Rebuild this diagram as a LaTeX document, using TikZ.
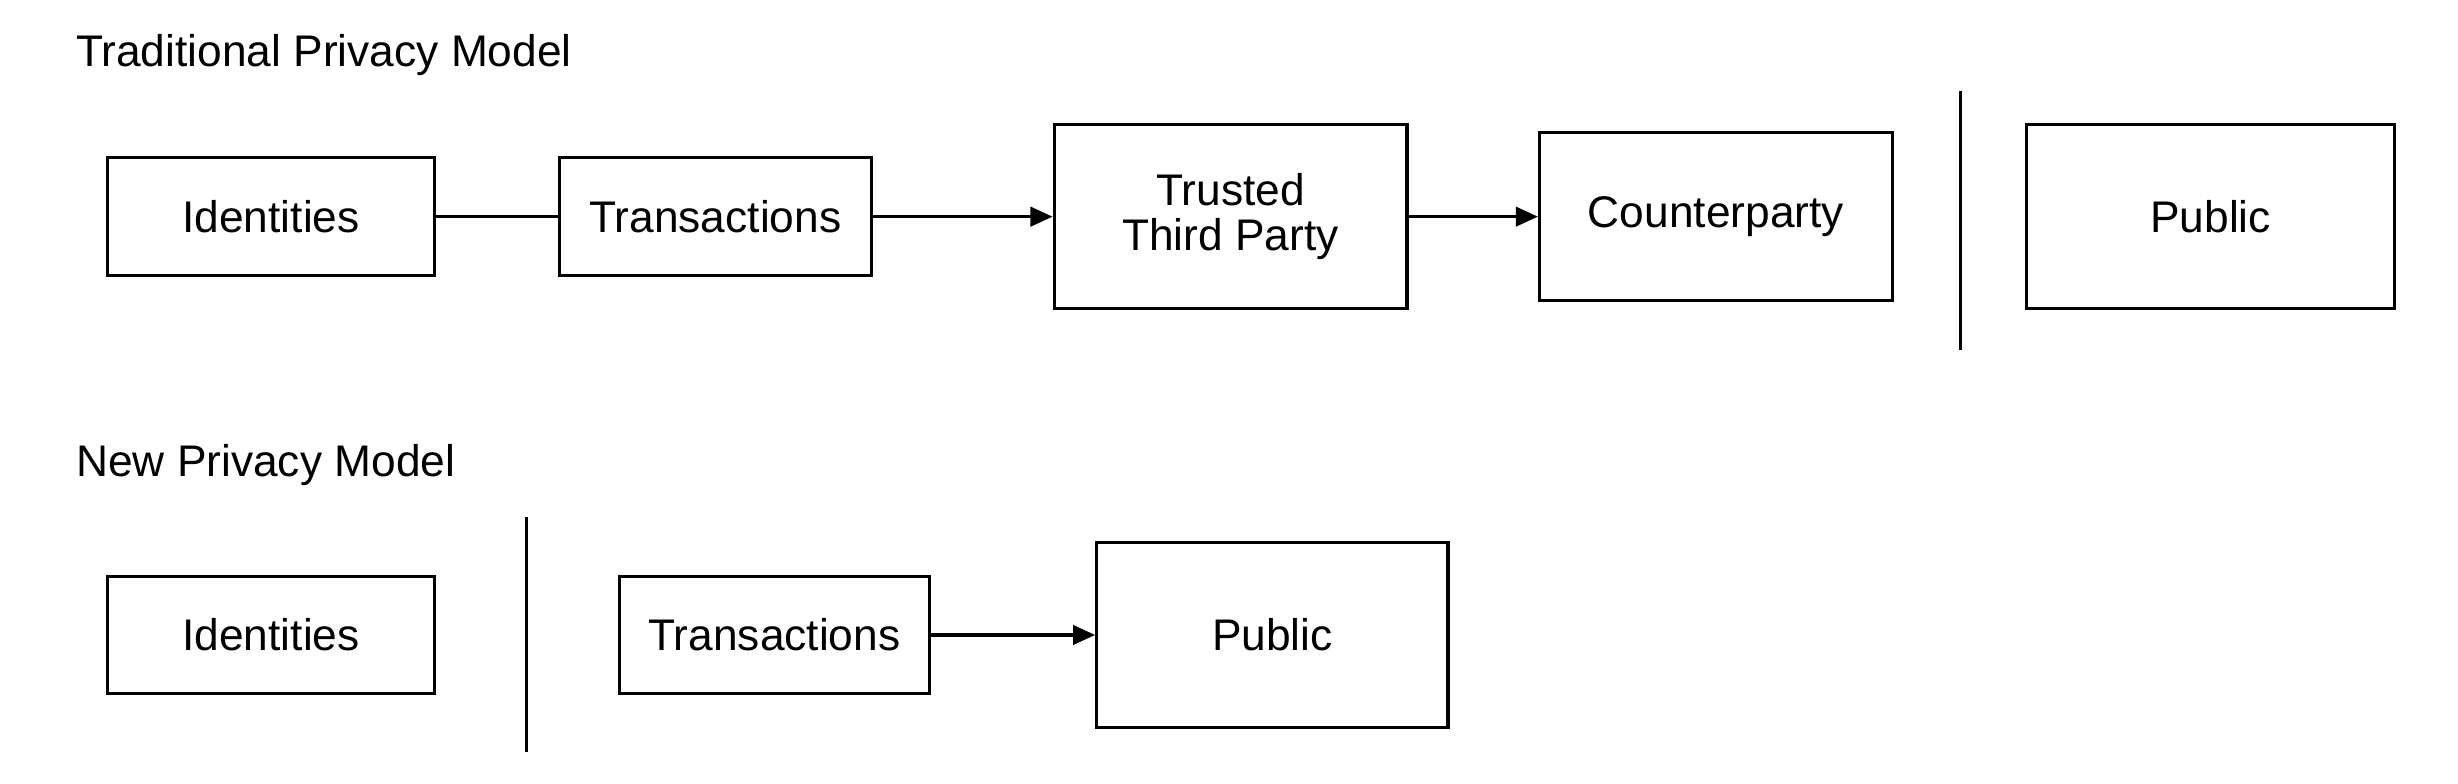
\documentclass[tikz,border=0pt]{standalone}
\usepackage{fontspec}
\setmainfont{Liberation Sans}
\usetikzlibrary{arrows.meta}
\tikzset{
  box/.style={draw,line width=1.1pt,align=center,font=\fontsize{16}{16.5}\selectfont,inner sep=0pt},
  link/.style={line width=1.1pt},
  arr/.style={line width=1.1pt,-{Triangle[length=8pt,width=7pt]}},
  title/.style={anchor=west,font=\fontsize{16}{18}\selectfont,inner sep=0pt}
}
\begin{document}
\begin{tikzpicture}[x=0.02cm,y=-0.02cm]
\useasboundingbox (0,0) rectangle (1560,497);

%traditional model
\node[title] (t1) at (48,35) {Traditional Privacy Model};
\node[box,minimum width=4.16cm,minimum height=1.5cm] (id1) at (172,137.5) {Identities};
\node[box,minimum width=3.96cm,minimum height=1.5cm] (tx1) at (454,137.5) {Transactions};
\node[box,minimum width=4.48cm,minimum height=2.34cm] (ttp) at (781,137.5) {Trusted\\Third Party};
\node[box,minimum width=4.48cm,minimum height=2.14cm] (cp) at (1089,137.5) {Counterparty};
\node[box,minimum width=4.68cm,minimum height=2.34cm] (pub1) at (1403,137.5) {Public};
\coordinate (s1a) at (1244,58);
\coordinate (s1b) at (1244,222);
\draw[link] (id1) -- (tx1);
\draw[arr] (tx1) -- (ttp);
\draw[arr] (ttp) -- (cp);
\draw[link] (s1a) -- (s1b);

%new model
\node[title] (t2) at (48,295) {New Privacy Model};
\node[box,minimum width=4.16cm,minimum height=1.48cm] (id2) at (172,403) {Identities};
\node[box,minimum width=3.94cm,minimum height=1.48cm] (tx2) at (491.5,403) {Transactions};
\node[box,minimum width=4.46cm,minimum height=2.34cm] (pub2) at (807.5,403) {Public};
\coordinate (s2a) at (334,328);
\coordinate (s2b) at (334,477);
\draw[arr] (tx2) -- (pub2);
\draw[link] (s2a) -- (s2b);
\end{tikzpicture}
\end{document}
